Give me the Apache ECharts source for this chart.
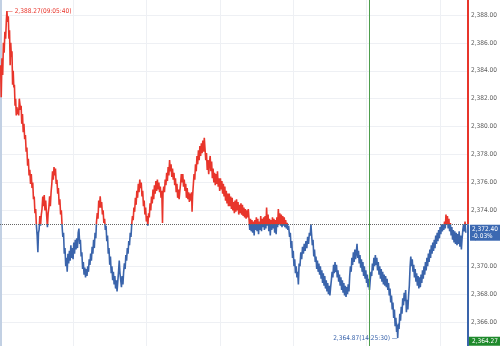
<!DOCTYPE html>
<html><head><meta charset="utf-8">
<script src="https://cdn.jsdelivr.net/npm/echarts@6/dist/echarts.min.js"></script>
<style>html,body{margin:0;padding:0;background:#fff;overflow:hidden;width:500px;height:346px;position:relative}#c{position:absolute;left:0;top:-13px;width:500px;height:363px}</style>
</head><body><div id="c"></div>
<script>
// minutes since 09:00
const times = [0.5,1.0,1.6,2.2,2.8,3.4,4.0,4.6,5.2,5.67,6.2,6.8,7.3,7.8,8.3,8.8,9.3,9.8,10.3,10.8,11.3,11.8,12.3,12.8,13.3,13.8,14.3,14.8,15.3,15.8,16.3,16.8,17.3,17.8,18.4,19.0,19.6,20.2,20.8,21.4,22.0,22.6,23.2,23.8,24.4,25.0,25.6,26.2,26.8,27.4,28.0,28.6,29.2,29.8,30.4,31.0,31.5,32.0,32.6,33.2,33.8,34.4,35.0,35.6,36.2,36.8,37.4,38.2,38.8,39.4,40.0,40.6,41.2,41.8,42.4,43.0,43.6,44.2,44.8,45.4,46.0,46.6,47.2,47.8,48.4,49.0,49.6,50.2,50.8,51.4,52.0,52.6,53.2,53.8,54.4,55.0,55.6,56.2,56.8,57.4,58.0,58.6,59.2,59.8,60.4,61.0,61.6,62.2,62.8,63.4,64.0,64.6,65.2,65.8,66.4,67.0,67.6,68.2,68.8,69.4,70.0,70.6,71.2,71.8,72.4,73.0,73.6,74.2,74.8,75.4,76.0,76.6,77.2,77.8,78.4,79.0,79.6,80.2,80.8,81.4,82.0,82.6,83.2,83.8,84.4,85.0,85.6,86.2,86.8,87.4,88.0,88.6,89.2,89.8,90.4,91.0,91.6,92.2,92.8,93.4,94.0,94.6,95.2,95.8,96.4,97.0,97.6,98.2,98.8,99.4,100.0,100.6,101.2,101.8,102.4,103.0,103.6,104.2,104.8,105.4,106.0,106.6,107.2,107.8,108.4,109.0,109.6,110.2,110.8,111.4,112.0,112.6,113.2,113.8,114.4,115.0,115.6,116.2,116.8,117.4,118.0,118.6,119.2,119.8,120.4,121.0,121.6,122.2,122.8,123.4,124.0,124.6,125.2,125.8,126.4,127.0,127.6,128.2,128.8,129.4,130.0,130.6,131.2,131.8,132.4,133.0,133.4,134.0,134.6,135.2,135.8,136.4,137.0,137.6,138.2,138.8,139.4,140.0,140.6,141.2,141.8,142.4,143.0,143.6,144.2,144.8,145.4,146.0,146.6,147.2,147.8,148.4,149.0,149.6,150.2,150.8,151.4,152.0,152.6,153.2,153.8,154.4,155.0,155.6,156.2,156.8,157.2,157.6,158.2,158.8,159.4,160.0,160.6,161.2,161.8,162.4,163.0,163.6,164.2,164.8,165.4,166.0,166.6,167.2,167.8,168.4,169.0,169.6,170.2,170.8,171.4,172.0,172.6,173.2,173.8,174.4,175.0,175.6,176.2,176.8,177.4,178.0,178.6,179.2,179.8,180.4,181.0,181.6,182.2,182.8,183.4,184.0,184.6,185.2,185.8,186.4,187.0,187.6,188.2,188.8,189.4,190.0,190.6,191.2,191.8,192.4,193.0,193.6,194.2,194.8,195.4,196.0,196.6,197.2,197.8,198.4,199.0,199.6,200.2,200.8,201.4,202.0,202.6,203.2,203.8,204.4,205.0,205.6,206.2,206.8,207.4,208.0,208.6,209.2,209.8,210.4,211.0,211.6,212.2,212.8,213.4,214.0,214.6,215.2,215.8,216.4,217.0,217.6,218.2,218.8,219.4,220.0,220.6,221.2,221.8,222.4,223.0,223.6,224.2,224.8,225.4,226.0,226.6,227.2,227.8,228.4,229.0,229.6,230.2,230.8,231.4,232.0,232.6,233.2,233.8,234.4,235.0,235.6,236.2,237.0,237.6,238.2,238.8,239.4,240.0,240.6,241.2,241.8,242.4,243.0,243.6,244.2,244.8,245.5,246.2,246.9,247.6,248.3,249.0,249.7,250.4,251.1,251.8,252.5,253.2,253.9,254.5,255.0,255.6,256.2,256.8,257.4,258.0,258.6,259.2,259.8,260.4,261.0,261.6,262.2,262.8,263.4,264.0,264.6,265.2,265.8,266.4,267.0,267.6,268.2,268.8,269.4,270.0,270.6,271.2,271.8,272.4,273.0,273.6,274.2,274.8,275.4,276.0,276.6,277.2,277.8,278.4,279.0,279.6,280.2,280.8,281.4,282.0,282.6,283.2,283.8,284.4,285.0,285.6,286.2,286.8,287.4,288.0,288.6,289.2,289.8,290.4,291.0,291.6,292.2,292.8,293.4,294.0,294.6,295.2,295.8,296.4,297.0,297.6,298.2,298.8,299.4,300.0,300.6,301.2,301.8,302.4,303.0,303.6,304.2,304.8,305.4,306.0,306.6,307.2,307.8,308.4,309.0,309.6,310.2,310.8,311.4,312.0,312.6,313.2,313.8,314.4,315.0,315.6,316.2,316.8,317.4,318.0,318.6,319.2,319.8,320.4,321.0,321.6,322.2,322.8,323.4,324.0,324.6,325.0,325.5,326.0,326.6,327.2,327.8,328.4,329.0,329.6,330.2,330.8,331.4,332.0,332.6,333.2,333.8,334.4,335.0,335.6,336.2,336.8,337.4,338.0,338.6,339.2,339.8,340.4,341.0,341.6,342.2,342.8,343.4,344.0,344.6,345.2,345.8,346.4,347.0,347.6,348.2,348.8,349.4,350.0,350.6,351.2,351.8,352.4,353.0,353.6,354.2,354.8,355.4,356.0,356.6,357.2,357.8,358.4,359.0,359.6,360.2,360.8,361.4,362.0,362.6,363.2,363.8,364.4,365.0,365.6,366.2,366.8,367.4,368.0,368.6,369.2,369.8,370.4,371.0,371.6,372.2,372.8,373.4,374.0,374.6,375.2,375.8,376.4,377.0,377.6,378.2,378.8,379.4,380.0,380.6,381.2];
const prices = [2384.4,2382.1,2384.9,2383.7,2386.0,2385.3,2386.8,2386.3,2387.6,2388.27,2387.5,2387.9,2386.3,2386.9,2384.4,2386.0,2385.0,2385.4,2383.0,2384.0,2382.8,2383.0,2381.5,2382.0,2380.8,2381.4,2380.9,2381.3,2380.8,2382.0,2381.9,2381.2,2381.5,2380.2,2380.9,2379.6,2380.2,2379.1,2379.4,2378.2,2378.5,2377.2,2377.7,2376.5,2376.9,2375.9,2376.6,2375.6,2376.0,2374.8,2375.0,2373.8,2374.1,2372.9,2372.2,2371.0,2372.4,2372.6,2373.6,2372.9,2373.7,2374.1,2375.0,2374.3,2375.1,2374.0,2374.7,2373.6,2372.8,2373.8,2374.2,2375.0,2374.3,2375.3,2375.9,2376.8,2376.2,2377.1,2376.5,2377.0,2375.9,2376.2,2375.2,2375.6,2374.4,2374.8,2373.7,2374.0,2372.9,2372.1,2372.4,2370.9,2371.3,2370.0,2370.6,2369.6,2370.9,2370.2,2371.1,2370.4,2371.5,2370.6,2371.3,2370.5,2371.7,2370.9,2371.9,2371.2,2372.0,2371.3,2372.4,2372.7,2371.6,2371.9,2370.7,2371.0,2369.8,2370.3,2369.4,2369.9,2369.2,2369.8,2369.3,2370.0,2369.6,2370.5,2370.1,2370.9,2370.4,2371.4,2370.9,2371.9,2371.3,2372.4,2372.0,2373.2,2373.8,2373.4,2374.7,2374.2,2375.0,2374.2,2374.6,2373.7,2374.0,2373.1,2373.4,2372.6,2372.9,2371.8,2372.2,2370.9,2371.3,2370.1,2370.7,2369.5,2370.0,2369.0,2369.6,2368.7,2369.3,2368.4,2369.0,2368.2,2368.9,2369.6,2370.4,2369.5,2369.0,2368.5,2369.3,2368.7,2369.6,2370.2,2369.8,2370.8,2370.4,2371.3,2370.9,2371.8,2371.5,2372.4,2372.1,2373.0,2373.6,2373.3,2374.2,2373.9,2374.9,2374.4,2375.4,2374.9,2375.9,2375.3,2376.2,2375.6,2376.0,2375.0,2375.4,2374.3,2374.7,2373.7,2374.2,2373.2,2373.6,2372.9,2373.8,2373.5,2374.5,2374.0,2375.0,2374.5,2375.5,2374.8,2375.8,2375.2,2376.1,2375.4,2376.2,2375.5,2376.0,2375.3,2375.7,2374.9,2375.4,2373.1,2375.2,2375.7,2375.3,2376.2,2375.8,2376.7,2376.1,2377.1,2376.5,2377.6,2376.8,2377.3,2376.4,2377.0,2376.2,2376.7,2375.8,2376.3,2375.3,2375.9,2374.9,2375.5,2374.8,2375.4,2375.9,2376.6,2376.0,2376.6,2375.7,2376.2,2375.4,2375.9,2374.9,2375.6,2374.8,2375.3,2374.6,2375.2,2374.7,2375.3,2373.9,2375.0,2375.8,2376.6,2376.2,2377.3,2376.8,2377.9,2377.3,2378.3,2377.6,2378.6,2377.9,2378.8,2378.1,2379.0,2378.2,2379.2,2378.4,2377.6,2378.1,2376.9,2377.6,2376.6,2377.4,2377.9,2376.8,2377.5,2376.3,2377.0,2376.0,2376.7,2375.8,2376.6,2375.9,2376.8,2375.7,2376.3,2375.4,2376.3,2375.5,2376.1,2375.2,2375.9,2375.0,2375.7,2374.7,2375.4,2374.5,2375.2,2374.3,2375.2,2374.3,2375.0,2374.1,2374.9,2374.0,2374.6,2373.8,2374.7,2373.9,2374.8,2374.0,2374.6,2373.7,2374.4,2373.8,2374.5,2373.7,2374.4,2373.6,2374.2,2373.5,2374.1,2373.4,2374.0,2373.5,2374.1,2373.4,2372.6,2373.4,2372.5,2373.3,2372.4,2373.2,2372.2,2373.3,2372.6,2373.5,2372.5,2373.4,2372.3,2373.2,2372.6,2373.6,2372.5,2373.4,2372.8,2373.5,2372.6,2373.6,2372.7,2374.2,2372.9,2373.7,2372.5,2373.4,2372.2,2373.3,2372.6,2373.5,2372.7,2373.4,2372.4,2373.3,2372.3,2373.5,2372.8,2374.1,2373.0,2373.8,2372.9,2373.7,2372.8,2373.6,2372.9,2373.5,2372.8,2373.3,2372.7,2373.1,2372.6,2372.9,2372.1,2372.4,2371.3,2371.8,2370.6,2371.1,2370.0,2370.5,2369.5,2370.0,2369.2,2369.6,2368.7,2370.2,2370.0,2371.0,2370.5,2371.4,2370.9,2371.6,2371.1,2371.8,2371.3,2372.1,2371.6,2372.4,2372.2,2373.0,2372.3,2371.5,2371.9,2370.7,2371.2,2370.3,2370.7,2369.8,2370.4,2369.6,2370.2,2369.4,2370.0,2369.1,2369.7,2368.8,2369.5,2368.6,2369.3,2368.4,2369.0,2368.2,2368.8,2368.0,2368.6,2367.9,2368.5,2369.0,2369.6,2369.2,2370.1,2369.5,2370.3,2369.6,2370.1,2369.2,2369.7,2368.9,2369.4,2368.6,2369.2,2368.3,2369.0,2368.1,2368.8,2367.9,2368.6,2367.8,2368.5,2368.0,2368.7,2368.2,2369.3,2370.0,2369.6,2370.6,2370.1,2371.0,2370.3,2371.2,2370.5,2371.0,2371.6,2370.6,2371.1,2370.2,2370.8,2369.9,2370.5,2369.6,2370.3,2369.3,2370.0,2369.1,2369.7,2368.8,2369.4,2368.5,2369.1,2368.3,2369.0,2369.6,2369.3,2370.2,2369.7,2370.6,2370.0,2370.8,2370.1,2370.6,2369.7,2370.3,2369.4,2370.0,2369.1,2369.8,2368.9,2369.6,2368.7,2369.4,2368.6,2369.3,2368.5,2369.1,2368.3,2368.8,2367.9,2368.4,2367.4,2367.9,2366.9,2367.4,2366.3,2366.9,2365.7,2366.3,2365.3,2365.8,2364.87,2365.9,2365.5,2366.6,2366.1,2367.1,2366.6,2367.7,2367.2,2368.1,2367.5,2368.3,2366.7,2367.6,2366.9,2367.9,2368.6,2369.9,2370.7,2370.0,2370.5,2369.6,2370.1,2369.2,2369.8,2368.9,2369.5,2368.6,2369.3,2368.4,2369.2,2368.5,2369.4,2368.8,2369.7,2369.1,2370.0,2369.4,2370.3,2369.7,2370.6,2370.0,2370.9,2370.3,2371.2,2370.6,2371.5,2370.9,2371.7,2371.1,2371.9,2371.3,2372.2,2371.6,2372.4,2371.8,2372.6,2372.0,2372.8,2372.3,2373.0,2372.5,2373.0,2372.6,2373.2,2372.7,2373.7,2373.0,2373.6,2372.7,2373.4,2372.5,2373.1,2372.2,2372.8,2371.9,2372.6,2371.7,2372.5,2371.6,2372.4,2371.5,2372.3,2371.6,2372.5,2371.4,2372.2,2371.2,2372.0,2372.6,2373.0,2372.5,2373.2,2372.4];
const prevClose = 2373.0;
const lastPrice = 2372.40;
const lastChange = '-0.03%';
const highPoint = [5.67, 2388.27];
const highTime = '09:05:40';
const lowPoint = [325.5, 2364.87];
const lowTime = '14:25:30';
const axisLow = 2364.27;
const markerTime = 302;
const sessionEnd = 383;
const yMin = 2364, yMax = 2390, yStep = 2;

const RED = '#e8352b', BLUE = '#3a64ab';
const FONT = "'Liberation Sans Narrow','DejaVu Sans Condensed','Liberation Sans',sans-serif";
function fmt(v){ return v.toLocaleString('en-US',{minimumFractionDigits:2,maximumFractionDigits:2}); }

const chart = echarts.init(document.getElementById('c'), null, {renderer:'canvas'});
chart.setOption({
  animation: false,
  backgroundColor: '#fff',
  grid: {left: 0, right: 29, top: 0, bottom: 0, containLabel: false},
  xAxis: {type:'value', min:0, max:sessionEnd, interval:60,
    axisLine:{show:false}, axisTick:{show:false}, axisLabel:{show:false},
    splitLine:{show:true, lineStyle:{color:'#eef0f4', width:1}}},
  yAxis: [
    {type:'value', position:'right', min:yMin, max:yMax, interval:yStep,
      axisLine:{show:false}, axisTick:{show:false},
      axisLabel:{show:true, margin:3, color:'#5a5a5a', fontSize:6.5, fontFamily:FONT,
        showMinLabel:false, showMaxLabel:false, formatter:fmt},
      splitLine:{show:true, lineStyle:{color:'#eef0f4', width:1}}},
    {type:'value', position:'left', min:yMin, max:yMax, interval:yStep,
      axisLine:{show:true, lineStyle:{color:'#c2d0e3', width:3}},
      axisTick:{show:false}, axisLabel:{show:false}, splitLine:{show:false}}
  ],
  visualMap: {show:false, type:'piecewise', seriesIndex:0, dimension:1,
    pieces:[{gt:prevClose, lte:yMax + 10, color:RED},{gte:yMin - 10, lte:prevClose, color:BLUE}]},
  series: [{
    type:'line', yAxisIndex:0, showSymbol:false, sampling:'none', silent:true,
    data: times.map((t,i)=>[t, prices[i]]),
    lineStyle:{width:1.6},
    markLine: {silent:true, symbol:['none','none'], label:{show:false},
      data: [
        {yAxis: prevClose, lineStyle:{type:'dotted', color:'#666', width:1}},
        {xAxis: markerTime, lineStyle:{type:'solid', color:'#4e9e4e', width:1}},
        [{coord:[sessionEnd, prevClose], lineStyle:{type:'solid', color:RED, width:2}}, {coord:[sessionEnd, yMax]}],
        [{coord:[sessionEnd, yMin], lineStyle:{type:'solid', color:BLUE, width:2}}, {coord:[sessionEnd, prevClose]}]
      ]},
    markPoint: {silent:true, symbol:'circle', symbolSize:0,
      label:{fontFamily:FONT, fontSize:6.5},
      data: [
        {coord: highPoint, label:{show:true, position:'right', distance:0, color:RED,
          formatter: '\u2014 ' + fmt(highPoint[1]) + '(' + highTime + ')'}},
        {coord: lowPoint, label:{show:true, position:'left', distance:0, color:BLUE,
          formatter: fmt(lowPoint[1]) + '(' + lowTime + ') \u2014'}},
        {coord: [sessionEnd, lastPrice], label:{show:true, position:'right', distance:2,
          color:'#fff', backgroundColor:'#3c69b2', padding:[1,2,1,2], lineHeight:7,
          formatter: fmt(lastPrice) + '\n' + lastChange}},
        {coord: [sessionEnd, axisLow], label:{show:true, position:'right', distance:1, offset:[0,-5],
          color:'#fff', backgroundColor:'#1f8a2c', padding:[1,3,1,3],
          formatter: fmt(axisLow)}}
      ]}
  }]
});
</script></body></html>
